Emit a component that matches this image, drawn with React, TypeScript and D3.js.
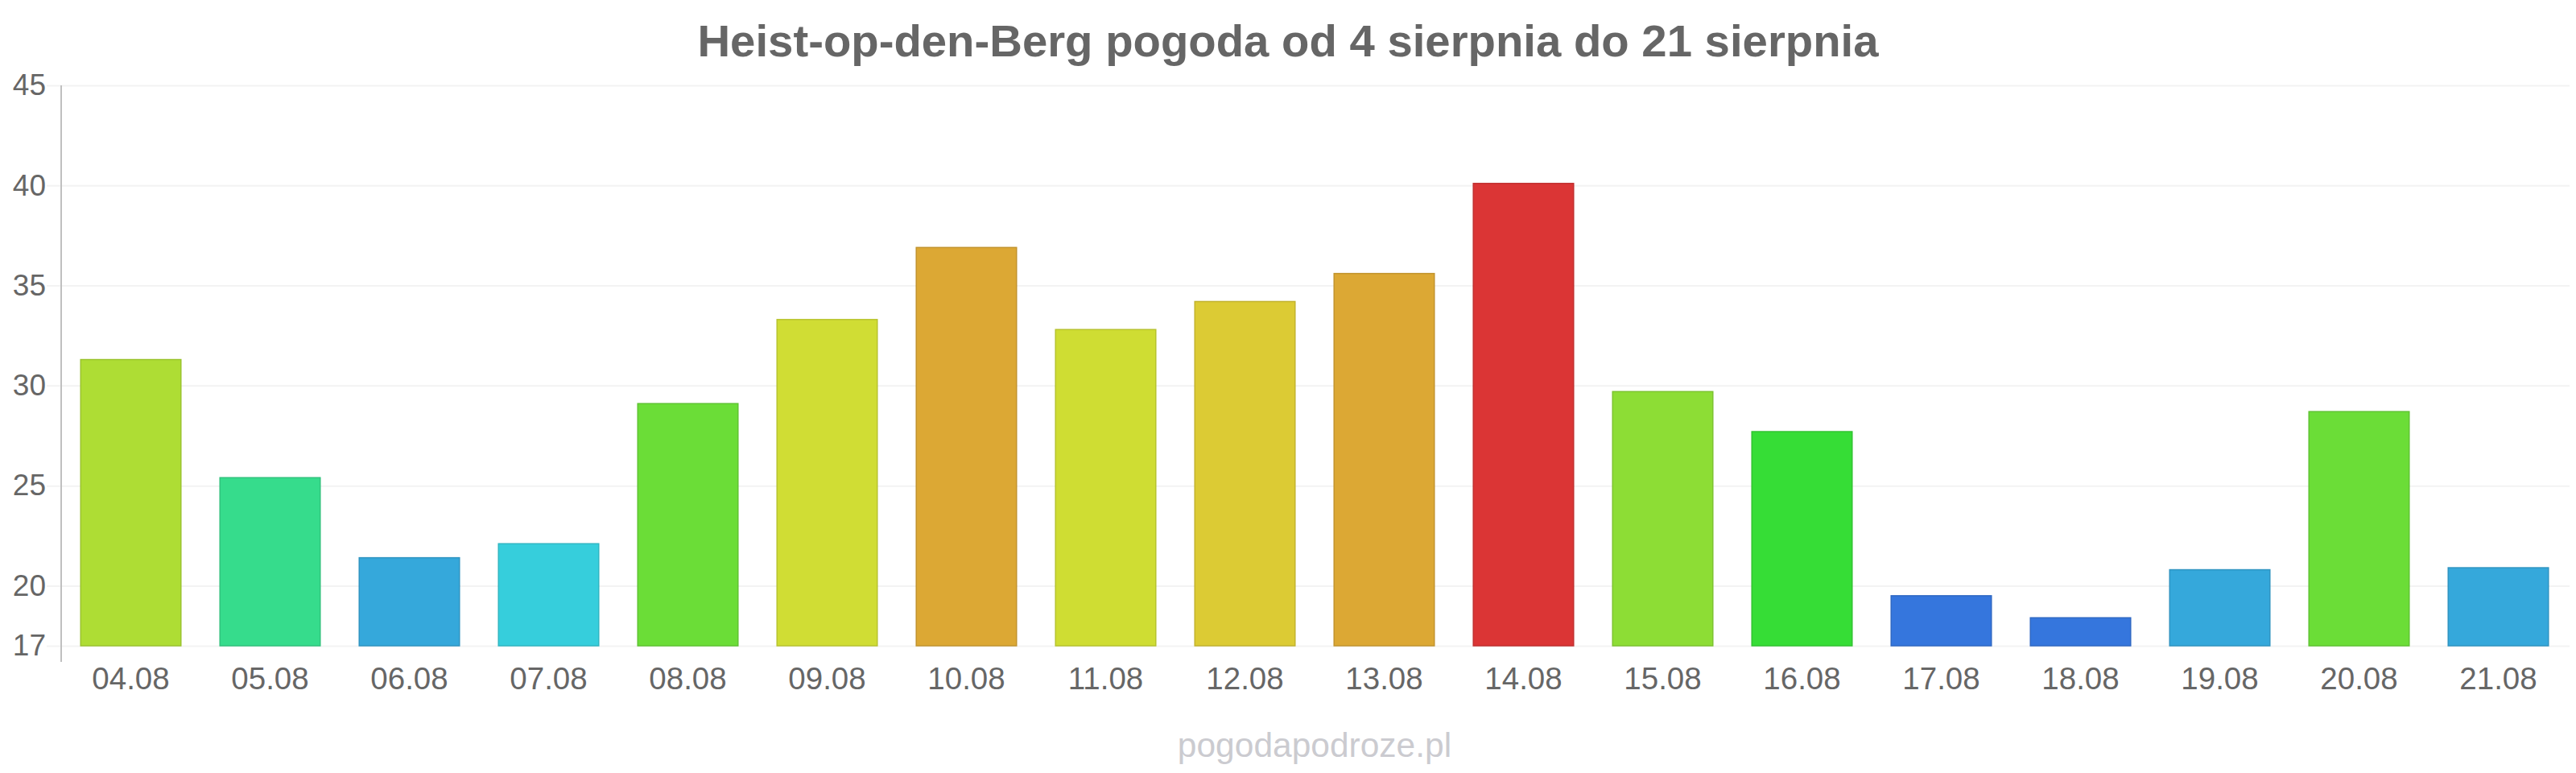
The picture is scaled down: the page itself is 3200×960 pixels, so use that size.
import React, { useRef, useEffect } from "react";
import * as d3 from "d3";

const days = [
  "04.08", "05.08", "06.08", "07.08", "08.08", "09.08", "10.08", "11.08", "12.08",
  "13.08", "14.08", "15.08", "16.08", "17.08", "18.08", "19.08", "20.08", "21.08",
];
const temps = [31.3, 25.4, 21.4, 22.1, 29.1, 33.3, 36.9, 32.8, 34.2, 35.6, 40.1, 29.7, 27.7, 19.5, 18.4, 20.8, 28.7, 20.9];
const barColors = [
  "#aedd34", "#36dc8c", "#35a8db", "#36cedc", "#6bdd37", "#d0dd34", "#dca834", "#cfdd33", "#dccb34",
  "#dca834", "#db3535", "#8ddd35", "#36dd36", "#3576dd", "#3576dd", "#35a8db", "#6bdd37", "#35a8db",
];
const yTicks = [17, 20, 25, 30, 35, 40, 45];
const title = "Heist-op-den-Berg pogoda od 4 sierpnia do 21 sierpnia";
const credit = "pogodapodroze.pl";

export default function App() {
  const svgRef = useRef(null);
  const width = 3200;
  const height = 960;

  useEffect(() => {
    const marginTop = 106;
    const marginRight = 10;
    const marginBottom = 158;
    const marginLeft = 76;

    const x = d3
      .scaleBand()
      .domain(days)
      .range([marginLeft, width - marginRight])
      .paddingInner(0.28)
      .paddingOuter(0.14);

    const y = d3
      .scaleLinear()
      .domain([17, 45])
      .range([height - marginBottom, marginTop]);

    const svg = d3
      .select(svgRef.current)
      .attr("viewBox", `0 0 ${width} ${height}`)
      .attr("width", width)
      .attr("height", height)
      .style("font-family", "'Liberation Sans', Arial, sans-serif")
      .style("background", "#fff");

    svg.selectAll("*").remove();

    // grid + y labels
    svg
      .append("g")
      .attr("transform", `translate(${marginLeft},0)`)
      .call(
        d3
          .axisLeft(y)
          .tickValues(yTicks)
          .tickSize(-(width - marginLeft - 8))
          .tickPadding(20)
      )
      .call((g) => g.select(".domain").remove())
      .call((g) =>
        g.selectAll(".tick line").attr("stroke", "#f3f3f3").attr("stroke-width", 2).attr("x1", -18)
      )
      .call((g) =>
        g
          .selectAll(".tick text")
          .attr("fill", "#666")
          .attr("font-size", 37)
          .attr("x", -19)
      );

    svg
      .append("line")
      .attr("x1", marginLeft)
      .attr("x2", marginLeft)
      .attr("y1", marginTop)
      .attr("y2", height - marginBottom + 20)
      .attr("stroke", "#c0c0c0")
      .attr("stroke-width", 2);

    svg
      .append("g")
      .selectAll("rect")
      .data(temps)
      .join("rect")
      .attr("x", (_, i) => x(days[i])!)
      .attr("width", x.bandwidth())
      .attr("y", (d) => y(d))
      .attr("height", (d) => y(17) - y(d))
      .attr("fill", (_, i) => barColors[i])
      .attr("stroke", (_, i) => d3.color(barColors[i])!.darker(0.35).formatHex())
      .attr("stroke-width", 1.5);

    // x labels
    svg
      .append("g")
      .attr("transform", `translate(0,${height - marginBottom})`)
      .call(d3.axisBottom(x).tickSize(0).tickPadding(27))
      .call((g) => g.select(".domain").remove())
      .call((g) =>
        g.selectAll(".tick text").attr("fill", "#666").attr("font-size", 38.5)
      );

    svg
      .append("text")
      .attr("x", width / 2)
      .attr("y", 70)
      .attr("text-anchor", "middle")
      .attr("fill", "#666")
      .attr("font-size", 56.3)
      .attr("font-weight", "bold")
      .text(title);

    svg
      .append("text")
      .attr("x", (marginLeft + width - marginRight) / 2)
      .attr("y", 940)
      .attr("text-anchor", "middle")
      .attr("fill", "#cbcbd0")
      .attr("font-size", 42.5)
      .text(credit);
  }, []);

  return (
    <svg
      ref={svgRef}
      style={{ position: "absolute", left: 0, top: 0, display: "block" }}
    ></svg>
  );
}
